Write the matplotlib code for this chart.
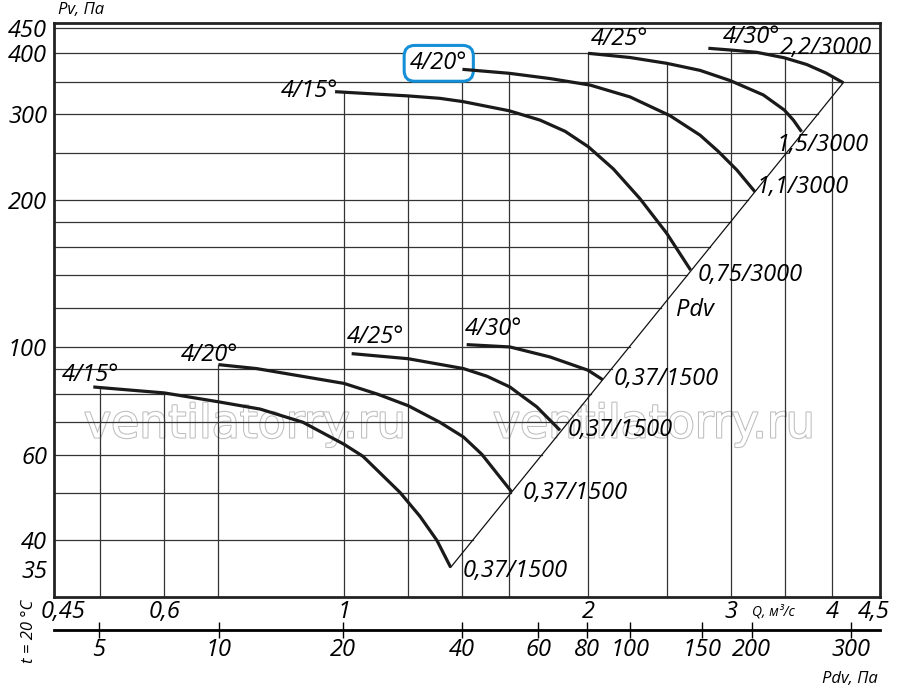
import numpy as np
import matplotlib
matplotlib.use("Agg")
import matplotlib.pyplot as plt
from matplotlib import patheffects

plt.rcParams['font.family'] = ['Open Sans', 'DejaVu Sans']
plt.rcParams['font.style'] = 'italic'

# --- data (Q in m3/s, Pv in Pa) ---
# 3000 rpm curves
q_15_hi = [0.975, 1.20, 1.313, 1.404, 1.599, 1.745, 1.874, 2.002, 2.149, 2.318, 2.501, 2.677]
p_15_hi = [333.6, 327.0, 323.3, 318.2, 304.8, 291.7, 276.6, 257.1, 231.6, 201.2, 170.8, 143.5]
q_20_hi = [1.40, 1.599, 1.795, 2.012, 2.254, 2.525, 2.749, 2.893, 3.053, 3.214]
p_20_hi = [370.8, 363.9, 355.0, 344.2, 325.4, 297.8, 271.7, 251.9, 230.3, 207.8]
q_25_hi = [2.0, 2.254, 2.501, 2.749, 2.994, 3.291, 3.493, 3.584, 3.669]
p_25_hi = [400.0, 392.1, 381.5, 369.0, 351.7, 328.5, 305.9, 291.7, 276.0]
q_30_hi = [2.815, 2.994, 3.229, 3.493, 3.722, 3.932, 4.13]
p_30_hi = [409.6, 406.3, 401.9, 391.6, 379.4, 364.4, 348.0]
# 1500 rpm curves
q_15_lo = [0.4906, 0.4985, 0.6004, 0.700, 0.788, 0.890, 1.0, 1.0555, 1.172, 1.241, 1.302, 1.354]
p_15_lo = [82.6, 82.4, 80.3, 77.0, 74.4, 69.9, 63.0, 59.5, 50.2, 44.8, 40.0, 35.2]
q_20_lo = [0.70, 0.780, 1.0, 1.101, 1.200, 1.313, 1.404, 1.479, 1.610]
p_20_lo = [91.8, 90.1, 84.0, 79.8, 75.6, 69.9, 65.2, 60.1, 50.3]
q_25_lo = [1.022, 1.200, 1.404, 1.501, 1.602, 1.647, 1.729, 1.806, 1.847]
p_25_lo = [96.7, 94.4, 90.1, 86.9, 82.6, 79.8, 75.2, 69.9, 67.3]
q_30_lo = [1.417, 1.602, 1.795, 2.0, 2.085]
p_30_lo = [100.9, 99.8, 95.2, 89.4, 85.5]

# dynamic pressure line (Pdv)
pdv_line_q = [1.354, 4.13]
pdv_line_p = [35.2, 348.0]

y_ticks = [35, 40, 60, 100, 200, 300, 400, 450]
x_ticks = [0.45, 0.6, 1, 2, 3, 4, 4.5]
x_tick_labels = ["0,45", "0,6", "1", "2", "3", "4", "4,5"]
y_grid = [40, 50, 60, 70, 80, 90, 100, 120, 140, 160, 180, 200, 250, 300, 350, 400, 450]
x_grid = [0.5, 0.6, 0.7, 1.0, 1.2, 1.4, 1.6, 2.0, 2.5, 3.0, 3.5, 4.0]
pdv_labels = ["5", "10", "20", "40", "60", "80", "100", "150", "200", "300"]
pdv_at_q = [0.4985, 0.7005, 0.997, 1.397, 1.737, 1.996, 2.254, 2.767, 3.184, 4.222]

curves = [
    (q_15_hi, p_15_hi, "4/15°", "0,75/3000"),
    (q_20_hi, p_20_hi, "4/20°", "1,1/3000"),
    (q_25_hi, p_25_hi, "4/25°", "1,5/3000"),
    (q_30_hi, p_30_hi, "4/30°", "2,2/3000"),
    (q_15_lo, p_15_lo, "4/15°", "0,37/1500"),
    (q_20_lo, p_20_lo, "4/20°", "0,37/1500"),
    (q_25_lo, p_25_lo, "4/25°", "0,37/1500"),
    (q_30_lo, p_30_lo, "4/30°", "0,37/1500"),
]
# label placement (ha of start label, start offset px, end offset px)
start_place = [("right", (3, 1)), ("right", (5, 6)), ("left", (3, 14)), ("left", (15, 11)),
               ("left", (-31, 12)), ("left", (-38, 10)), ("left", (-5, 17)), ("left", (-2, 16))]
end_place = [(7, -5), (2, 5), (-25, -13), (-63, 35), (12, -4), (11, -1), (8, 0), (11, 1)]

xmin, xmax = 0.4388, 4.584
ymin, ymax = 30.6, 461.6

fig = plt.figure(figsize=(9, 6.89), dpi=100)
ax = fig.add_axes([54 / 900, 1 - 597 / 689, 826 / 900, 574 / 689])
ax.set_xscale("log")
ax.set_yscale("log")
ax.set_xlim(xmin, xmax)
ax.set_ylim(ymin, ymax)

gc = "#333333"
# horizontal grid: from the left edge to the Pdv line
lq = np.log(pdv_line_q)
lp = np.log(pdv_line_p)
for p in y_grid:
    q_end = np.exp(np.interp(np.log(p), lp, lq, right=np.log(xmax)))
    ax.plot([xmin, min(q_end, xmax)], [p, p], color=gc, lw=0.9, zorder=2)

# vertical grid: from the bottom up to the highest curve
for q in x_grid:
    top = ymin
    for cq, cp, _, _ in curves:
        if cq[0] - 1e-6 <= q <= cq[-1]:
            top = max(top, np.exp(np.interp(np.log(q), np.log(cq), np.log(cp))))
    ax.plot([q, q], [ymin, top], color=gc, lw=0.9, zorder=2)

ax.plot(pdv_line_q, pdv_line_p, color="#111111", lw=0.9, zorder=3)

for (cq, cp, s_lab, e_lab), (ha, soff), eoff in zip(curves, start_place, end_place):
    ax.plot(cq, cp, color="#1a1a1a", lw=2.3, solid_capstyle="butt",
            solid_joinstyle="round", zorder=4)
    kw = {}
    if cq is q_20_hi:
        kw["bbox"] = dict(boxstyle="round,pad=0.25,rounding_size=0.45",
                          fc="white", ec="#1590d8", lw=2.2)
    ax.annotate(s_lab, (cq[0], cp[0]), xytext=soff, textcoords="offset pixels",
                ha=ha, va="center", fontsize=17, zorder=3, **kw)
    ax.annotate(e_lab, (cq[-1], cp[-1]), xytext=eoff, textcoords="offset pixels",
                ha="left", va="center", fontsize=17, zorder=3)

ax.text(2.71, 119, "Pdv", ha="center", va="center", fontsize=17, zorder=3)

# watermark
for xw in [245, 654]:
    ax.text(xw / 900, 1 - 425 / 689, "ventilatorry.ru", transform=fig.transFigure,
            ha="center", va="center", fontsize=33, style="normal",
            family="DejaVu Sans", color="white", zorder=0.5,
            path_effects=[patheffects.withStroke(linewidth=1.5, foreground="#bdbdbd")])

for s in ax.spines.values():
    s.set_linewidth(2)
    s.set_color("#222222")

ax.set_yticks(y_ticks)
ax.set_yticklabels([str(v) for v in y_ticks])
ax.yaxis.set_minor_locator(matplotlib.ticker.NullLocator())
ax.set_xticks(x_ticks)
ax.set_xticklabels(x_tick_labels)
ax.xaxis.set_minor_locator(matplotlib.ticker.NullLocator())
ax.tick_params(axis="both", length=0, labelsize=17)
ax.tick_params(axis="y", pad=5)
ax.tick_params(axis="x", pad=2)

sec = ax.secondary_xaxis(-33 / 574)
sec.set_xticks(pdv_at_q)
sec.set_xticklabels(pdv_labels)
sec.xaxis.set_minor_locator(matplotlib.ticker.NullLocator())
sec.tick_params(axis="x", direction="inout", length=11, width=1, labelsize=17, pad=0)
sec.spines["bottom"].set_linewidth(2)

fig.text(81 / 900, 1 - 10 / 689, "Pv, Па", ha="center", va="center", fontsize=12)
fig.text(773 / 900, 1 - 612 / 689, "Q, м³/с", ha="center", va="center", fontsize=10)
fig.text(850 / 900, 1 - 679 / 689, "Pdv, Па", ha="center", va="center", fontsize=12)
fig.text(29 / 900, 1 - 631 / 689, "t = 20 °C", ha="center", va="center",
         rotation=90, fontsize=12)

fig.savefig("out.png", dpi=100)
